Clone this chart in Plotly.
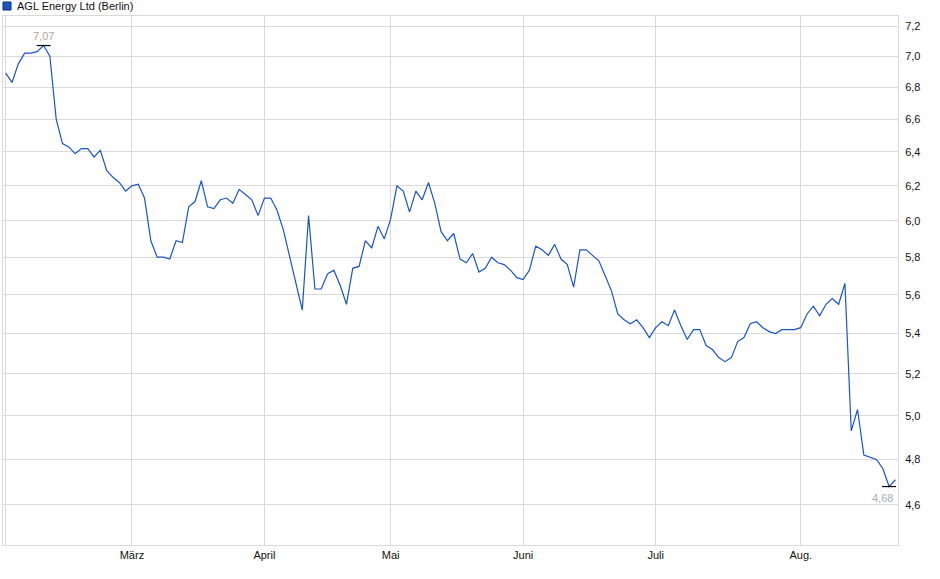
import math
import pandas as pd
import plotly.graph_objects as go

# closing prices (EUR), one value per Berlin trading day
feb = [6.89, 6.83, 6.95, 7.02, 7.02, 7.03, 7.07, 7.00, 6.60, 6.45,
       6.43, 6.39, 6.42, 6.42, 6.37, 6.41, 6.29, 6.25, 6.22, 6.17]
mar = [6.20, 6.21, 6.13, 5.89, 5.80, 5.80, 5.79, 5.89, 5.88, 6.08,
       6.11, 6.23, 6.08, 6.07, 6.12, 6.13, 6.10, 6.18, 6.15, 6.12,
       6.03]
apr = [6.13, 6.13, 6.06, 5.95, 5.81, 5.66, 5.52, 6.03, 5.63, 5.63,
       5.71, 5.73, 5.65, 5.55, 5.74, 5.75, 5.89, 5.85, 5.97, 5.90]
may = [6.01, 6.20, 6.17, 6.05, 6.17, 6.12, 6.22, 6.10, 5.94, 5.89,
       5.93, 5.79, 5.77, 5.82, 5.72, 5.74, 5.80, 5.77, 5.76, 5.73,
       5.69]
jun = [5.68, 5.73, 5.86, 5.84, 5.81, 5.87, 5.79, 5.76, 5.64, 5.84,
       5.84, 5.81, 5.78, 5.70, 5.62, 5.50, 5.47, 5.45, 5.47, 5.43,
       5.38]
jul = [5.43, 5.46, 5.44, 5.52, 5.44, 5.37, 5.42, 5.42, 5.34, 5.32,
       5.28, 5.26, 5.28, 5.36, 5.38, 5.45, 5.46, 5.43, 5.41, 5.40,
       5.42, 5.42, 5.42]
aug = [5.43, 5.50, 5.54, 5.49, 5.55, 5.58, 5.55, 5.66, 4.93, 5.03,
       4.82, 4.81, 4.80, 4.76, 4.68, 4.71]

holidays = ["2025-04-18", "2025-04-21", "2025-05-01"]
month_ticks = ["2025-03-03", "2025-04-01", "2025-05-02",
               "2025-06-02", "2025-07-01", "2025-08-01"]
month_labels = ["März", "April", "Mai", "Juni", "Juli", "Aug."]
y_ticks = [4.6, 4.8, 5.0, 5.2, 5.4, 5.6, 5.8, 6.0, 6.2, 6.4, 6.6, 6.8, 7.0, 7.2]

prices = feb + mar + apr + may + jun + jul + aug
days = pd.bdate_range("2025-02-03", "2025-08-22")
days = [d.strftime("%Y-%m-%d") for d in days if d.strftime("%Y-%m-%d") not in holidays]

FONT = "Liberation Sans, Arial, sans-serif"
BLUE = "#1a55c5"
GRID = "#dadada"


def px_x(p):
    return (p - 3) / 895


def px_y(p):
    return (545 - p) / 529


def main():
    imax = prices.index(max(prices))
    imin = prices.index(min(prices))

    fig = go.Figure()
    fig.add_trace(go.Scatter(
        x=days, y=prices, mode="lines",
        line=dict(color=BLUE, width=1.2),
        showlegend=False, hoverinfo="x+y",
    ))
    fig.add_trace(go.Scatter(
        x=[days[imax], days[imin]], y=[prices[imax], prices[imin]],
        mode="markers",
        marker=dict(symbol="line-ew", size=10,
                    line=dict(color="black", width=1.2)),
        showlegend=False, hoverinfo="skip",
    ))

    fig.add_annotation(
        x=days[imax], y=math.log10(prices[imax]),
        text=f"{prices[imax]:.2f}".replace(".", ","),
        showarrow=False, yshift=10,
        font=dict(family=FONT, size=11, color="#b3a48f"),
    )
    fig.add_annotation(
        x=days[imin], y=math.log10(prices[imin]),
        text=f"{prices[imin]:.2f}".replace(".", ","),
        showarrow=False, yshift=-11, xshift=-7,
        font=dict(family=FONT, size=11, color="#a7afbb"),
    )

    # legend box + name, drawn in the top strip
    fig.add_shape(
        type="rect", xref="paper", yref="paper",
        x0=px_x(3), x1=px_x(11), y0=px_y(10), y1=px_y(2),
        fillcolor=BLUE, line=dict(color="#0c2a66", width=1),
    )
    fig.add_annotation(
        xref="paper", yref="paper", x=px_x(15), y=px_y(6),
        xanchor="left", yanchor="middle", showarrow=False,
        text="AGL Energy Ltd (Berlin)",
        font=dict(family=FONT, size=11, color="#111"),
    )

    fig.update_xaxes(
        type="category",
        range=[-0.43, 141.41],
        tickvals=[days[0]] + month_ticks,
        ticktext=[""] + month_labels,
        showgrid=True, gridcolor=GRID, gridwidth=1,
        showline=True, linecolor=GRID, linewidth=1, mirror=True,
        ticks="", tickfont=dict(family=FONT, size=11, color="#111"),
    )
    fig.update_yaxes(
        type="log",
        range=[math.log10(4.431), math.log10(7.268)],
        side="right",
        tickvals=y_ticks,
        ticktext=[f"{v:.1f}".replace(".", ",") for v in y_ticks],
        showgrid=True, gridcolor=GRID, gridwidth=1,
        showline=True, linecolor=GRID, linewidth=1, mirror=True,
        ticks="", ticklabelstandoff=4,
        tickfont=dict(family=FONT, size=11, color="#111"),
    )
    fig.update_layout(
        width=940, height=579,
        margin=dict(l=3, r=42, t=16, b=34),
        paper_bgcolor="white", plot_bgcolor="white",
        font=dict(family=FONT, size=11),
        showlegend=False,
    )
    # page body has a default 8px margin; drop it so the figure sits at 0,0
    fig.write_html(
        "out.html",
        config={"displayModeBar": False},
        post_script="document.body.style.margin = '0';",
    )


if __name__ == "__main__":
    main()
